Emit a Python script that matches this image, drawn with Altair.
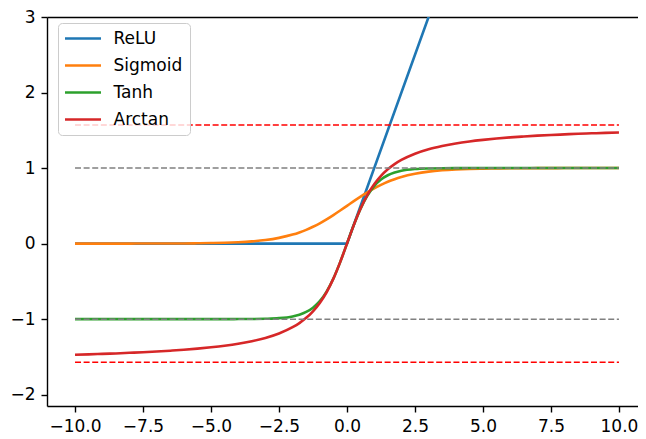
import altair as alt
import pandas as pd

# ---- data ----
series_names = ["ReLU", "Sigmoid", "Tanh", "Arctan"]
series_colors = ["#1f77b4", "#ff7f0e", "#2ca02c", "#d62728"]

relu_x = [-10, 0, 10]
relu_vals = [0, 0, 10]

x_vals = [-10, -9.5, -9, -8.5, -8, -7.5, -7, -6.5, -6, -5.5, -5, -4.5, -4, -3.5, -3, -2.5,
          -2, -1.75, -1.5, -1.25, -1, -0.75, -0.5, -0.25, 0, 0.25, 0.5, 0.75, 1, 1.25, 1.5, 1.75, 2,
          2.5, 3, 3.5, 4, 4.5, 5, 5.5, 6, 6.5, 7, 7.5, 8, 8.5, 9, 9.5, 10]

sigmoid_vals = [0.000, 0.000, 0.000, 0.000, 0.000, 0.001, 0.001, 0.002, 0.002, 0.004, 0.007, 0.011, 0.018, 0.029, 0.047, 0.076,
                0.119, 0.148, 0.182, 0.223, 0.269, 0.321, 0.378, 0.438, 0.500, 0.562, 0.622, 0.679, 0.731, 0.777, 0.818, 0.852, 0.881,
                0.924, 0.953, 0.971, 0.982, 0.989, 0.993, 0.996, 0.998, 0.998, 0.999, 0.999, 1.000, 1.000, 1.000, 1.000, 1.000]

tanh_vals = [-1.000, -1.000, -1.000, -1.000, -1.000, -1.000, -1.000, -1.000, -1.000, -1.000, -1.000, -1.000, -0.999, -0.998, -0.995, -0.987,
             -0.964, -0.941, -0.905, -0.848, -0.762, -0.635, -0.462, -0.245, 0.000, 0.245, 0.462, 0.635, 0.762, 0.848, 0.905, 0.941, 0.964,
             0.987, 0.995, 0.998, 0.999, 1.000, 1.000, 1.000, 1.000, 1.000, 1.000, 1.000, 1.000, 1.000, 1.000, 1.000, 1.000]

arctan_vals = [-1.471, -1.466, -1.460, -1.454, -1.446, -1.438, -1.429, -1.418, -1.406, -1.391, -1.373, -1.352, -1.326, -1.292, -1.249, -1.190,
               -1.107, -1.052, -0.983, -0.896, -0.785, -0.644, -0.464, -0.245, 0.000, 0.245, 0.464, 0.644, 0.785, 0.896, 0.983, 1.052, 1.107,
               1.190, 1.249, 1.292, 1.326, 1.352, 1.373, 1.391, 1.406, 1.418, 1.429, 1.438, 1.446, 1.454, 1.460, 1.466, 1.471]

gray_levels = [1, -1]
red_levels = [1.5708, -1.5708]
level_span = [-10, 10]

x_ticks = [-10, -7.5, -5, -2.5, 0, 2.5, 5, 7.5, 10]
y_ticks = [-2, -1, 0, 1, 2, 3]
x_domain = [-11.03, 10.7]
y_domain = [-2.15, 3]

# ---- tables ----
relu_df = pd.DataFrame({"x": relu_x, "y": relu_vals, "series": "ReLU"})
curve_rows = []
for name, vals in [("Sigmoid", sigmoid_vals), ("Tanh", tanh_vals), ("Arctan", arctan_vals)]:
    for xv, yv in zip(x_vals, vals):
        curve_rows.append({"x": xv, "y": yv, "series": name})
curves_df = pd.DataFrame(curve_rows)
gray_df = pd.DataFrame({"y": gray_levels, "x0": level_span[0], "x1": level_span[1]})
red_df = pd.DataFrame({"y": red_levels, "x0": level_span[0], "x1": level_span[1]})

W, H = 591, 389
FONT = "DejaVu Sans"

xscale = alt.Scale(domain=x_domain, nice=False, zero=False)
yscale = alt.Scale(domain=y_domain, nice=False, zero=False)

bottom_axis = alt.Axis(values=x_ticks, format=".1f", title=None, grid=False)
top_axis = alt.Axis(orient="top", labels=False, ticks=False, domain=True, title=None, grid=False)
left_axis = alt.Axis(values=y_ticks, format="d", title=None, grid=False)

color = alt.Color("series:N",
                  scale=alt.Scale(domain=series_names, range=series_colors),
                  legend=alt.Legend(title=None, orient="none", legendX=11, legendY=6,
                                    symbolType="M-3,0H3", symbolSize=144, symbolStrokeWidth=2.6,
                                    symbolOffset=9.5, symbolFillColor="transparent",
                                    labelFontSize=17, labelFont=FONT, labelColor="black",
                                    labelOffset=22, rowPadding=9, padding=7,
                                    fillColor="rgba(255,255,255,0.8)", strokeColor="#cccccc",
                                    cornerRadius=4))

relu_layer = alt.Chart(relu_df).mark_line(strokeWidth=2.6, clip=True).encode(
    x=alt.X("x:Q", scale=xscale, axis=bottom_axis),
    y=alt.Y("y:Q", scale=yscale, axis=left_axis),
    color=color,
)

curve_layer = alt.Chart(curves_df).mark_line(strokeWidth=2.6, clip=True, interpolate="monotone").encode(
    x=alt.X("x:Q", scale=xscale, axis=None),
    y=alt.Y("y:Q", scale=yscale, axis=left_axis),
    color=color,
)

gray_layer = alt.Chart(gray_df).mark_rule(color="#808080", strokeWidth=1.5, strokeDash=[6, 2.6]).encode(
    x=alt.X("x0:Q", scale=xscale, axis=top_axis),
    x2="x1:Q",
    y=alt.Y("y:Q", scale=yscale, axis=left_axis),
)

red_layer = alt.Chart(red_df).mark_rule(color="#ff0000", strokeWidth=1.5, strokeDash=[6, 2.6]).encode(
    x=alt.X("x0:Q", scale=xscale, axis=None),
    x2="x1:Q",
    y=alt.Y("y:Q", scale=yscale, axis=left_axis),
)

chart = alt.layer(relu_layer, curve_layer, gray_layer, red_layer).resolve_axis(
    x="independent"
).properties(
    width=W, height=H,
    autosize=alt.AutoSizeParams(type="none"),
    padding={"left": 39, "top": 9, "right": 0, "bottom": 30},
).configure_view(stroke=None).configure_axis(
    domainColor="black", domainWidth=1.4, tickColor="black", tickWidth=1.4, tickSize=6,
    labelFont=FONT, labelFontSize=17, labelColor="black", labelPadding=6,
)

chart.save("out.html", embed_options={"renderer": "svg", "actions": False})
